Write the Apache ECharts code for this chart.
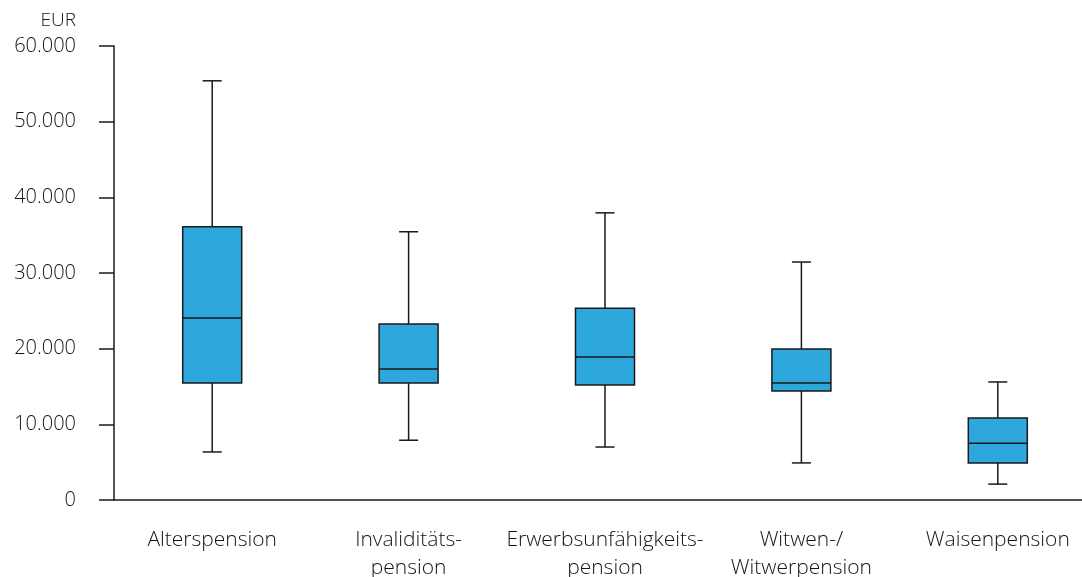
<!DOCTYPE html>
<html>
<head>
<meta charset="utf-8">
<script src="https://cdn.jsdelivr.net/npm/echarts@6/dist/echarts.min.js"></script>
<style>
html,body{margin:0;padding:0;background:#fff;}
#chart{width:1082px;height:577px;}
</style>
</head>
<body>
<div id="chart"></div>
<script>
const categories = ['Alterspension', 'Invaliditäts-\npension', 'Erwerbsunfähigkeits-\npension', 'Witwen-/\nWitwerpension', 'Waisenpension'];
const minValues    = [6350, 7900, 7000, 4900, 2100];
const q1Values     = [15450, 15450, 15200, 14400, 4900];
const medianValues = [24050, 17300, 18900, 15450, 7500];
const q3Values     = [36100, 23250, 25350, 19950, 10850];
const maxValues    = [55400, 35450, 37950, 31450, 15600];
const yTicks = { min: 0, max: 60000, interval: 10000 };

const data = categories.map((c, i) => [i, minValues[i], q1Values[i], medianValues[i], q3Values[i], maxValues[i]]);

const BOX_W = 59, CAP_W = 19;
const lineStyle = { stroke: '#1a1a1a', lineWidth: 1.5 };

function renderItem(params, api) {
  const i = api.value(0);
  const pMin = api.coord([i, api.value(1)]);
  const pQ1 = api.coord([i, api.value(2)]);
  const pMed = api.coord([i, api.value(3)]);
  const pQ3 = api.coord([i, api.value(4)]);
  const pMax = api.coord([i, api.value(5)]);
  const x = pMed[0];
  return {
    type: 'group',
    children: [
      { type: 'line', shape: { x1: x, y1: pMin[1], x2: x, y2: pQ1[1] }, style: lineStyle },
      { type: 'line', shape: { x1: x, y1: pQ3[1], x2: x, y2: pMax[1] }, style: lineStyle },
      { type: 'line', shape: { x1: x - CAP_W / 2, y1: pMin[1], x2: x + CAP_W / 2, y2: pMin[1] }, style: lineStyle },
      { type: 'line', shape: { x1: x - CAP_W / 2, y1: pMax[1], x2: x + CAP_W / 2, y2: pMax[1] }, style: lineStyle },
      { type: 'rect', shape: { x: x - BOX_W / 2, y: pQ3[1], width: BOX_W, height: pQ1[1] - pQ3[1] },
        style: { fill: '#2ea8dc', stroke: '#1a1a1a', lineWidth: 1.5 } },
      { type: 'line', shape: { x1: x - BOX_W / 2, y1: pMed[1], x2: x + BOX_W / 2, y2: pMed[1] }, style: lineStyle }
    ]
  };
}

const font = '"Open Sans", "Noto Sans", sans-serif';
const textColor = '#141414';
const chart = echarts.init(document.getElementById('chart'), null, { renderer: 'canvas' });
chart.setOption({
  animation: false,
  backgroundColor: '#ffffff',
  grid: { left: 114, top: 46, width: 982, bottom: 77, containLabel: false, outerBoundsMode: 'none' },
  xAxis: {
    type: 'category',
    data: categories,
    axisLine: { lineStyle: { color: '#1a1a1a', width: 1.5 } },
    axisTick: { show: false },
    axisLabel: { color: textColor, fontSize: 21, fontFamily: font, fontWeight: 300, margin: 26, lineHeight: 28, interval: 0 },
    splitLine: { show: false }
  },
  yAxis: {
    type: 'value',
    min: yTicks.min, max: yTicks.max, interval: yTicks.interval,
    name: 'EUR',
    nameLocation: 'end',
    nameGap: 16,
    nameTextStyle: { color: textColor, fontSize: 19, fontFamily: font, fontWeight: 300, align: 'right', padding: [0, 38, 0, 0] },
    axisLine: { show: true, lineStyle: { color: '#1a1a1a', width: 1.5 } },
    axisTick: { show: true, length: 15, lineStyle: { color: '#1a1a1a', width: 1.5 } },
    axisLabel: {
      color: textColor, fontSize: 20, fontFamily: font, fontWeight: 300, margin: 38, padding: [4, 0, 0, 0],
      formatter: v => v === 0 ? '0' : String(v).replace(/\B(?=(\d{3})+(?!\d))/g, '.')
    },
    splitLine: { show: false }
  },
  series: [{
    type: 'custom',
    renderItem: renderItem,
    encode: { x: 0, y: [1, 2, 3, 4, 5] },
    data: data
  }]
});
</script>
</body>
</html>
